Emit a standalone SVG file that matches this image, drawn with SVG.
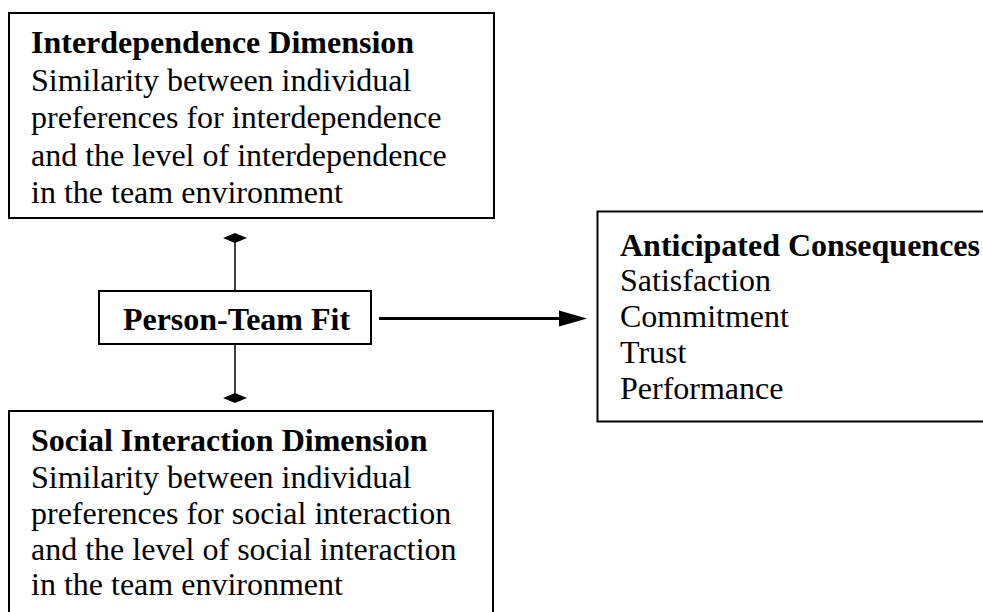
<svg xmlns="http://www.w3.org/2000/svg" width="983" height="612" viewBox="0 0 983 612">
<style>
.box{fill:#fff;stroke:#000;stroke-width:2}
.t{font-family:"Liberation Serif","Times New Roman",serif;font-size:32px;fill:#000}
.b{font-weight:bold}
.ln{stroke:#000;stroke-width:1.5;fill:none}
.arr{stroke:#000;stroke-width:3;fill:none}
</style>
<rect width="983" height="612" fill="#fff"/>
<g id="interdependence">
<rect class="box" x="9" y="13" width="485" height="205"/>
<text class="t" x="31" y="53"><tspan class="b">Interdependence Dimension</tspan><tspan x="31" y="90.5">Similarity between individual</tspan><tspan x="31" y="128">preferences for interdependence</tspan><tspan x="31" y="165.5">and the level of interdependence</tspan><tspan x="31" y="202.5">in the team environment</tspan></text>
</g>
<g id="fit">
<rect class="box" x="99" y="291" width="272" height="53"/>
<text class="t b" x="236.5" y="330" text-anchor="middle">Person-Team Fit</text>
</g>
<g id="social">
<rect class="box" x="9" y="411" width="484" height="220"/>
<text class="t" x="31" y="451"><tspan class="b">Social Interaction Dimension</tspan><tspan x="31" y="487.5">Similarity between individual</tspan><tspan x="31" y="523.5">preferences for social interaction</tspan><tspan x="31" y="560">and the level of social interaction</tspan><tspan x="31" y="595">in the team environment</tspan></text>
</g>
<g id="consequences">
<rect class="box" x="597.5" y="211.5" width="420" height="210"/>
<text class="t" x="620" y="255.5"><tspan class="b">Anticipated Consequences</tspan><tspan x="620" y="290.5">Satisfaction</tspan><tspan x="620" y="326.5">Commitment</tspan><tspan x="620" y="362.5">Trust</tspan><tspan x="620" y="398.5">Performance</tspan></text>
</g>
<g id="connectors">
<line class="ln" x1="235" y1="240" x2="235" y2="291"/>
<polygon points="223,238 235,233 247,238 235,243" fill="#000"/>
<line class="ln" x1="235" y1="344" x2="235" y2="396"/>
<polygon points="223,398 235,393 247,398 235,403" fill="#000"/>
<line class="arr" x1="379" y1="318.5" x2="562" y2="318.5"/>
<polygon points="559,310.5 587,318.5 559,326.5" fill="#000"/>
</g>
</svg>
